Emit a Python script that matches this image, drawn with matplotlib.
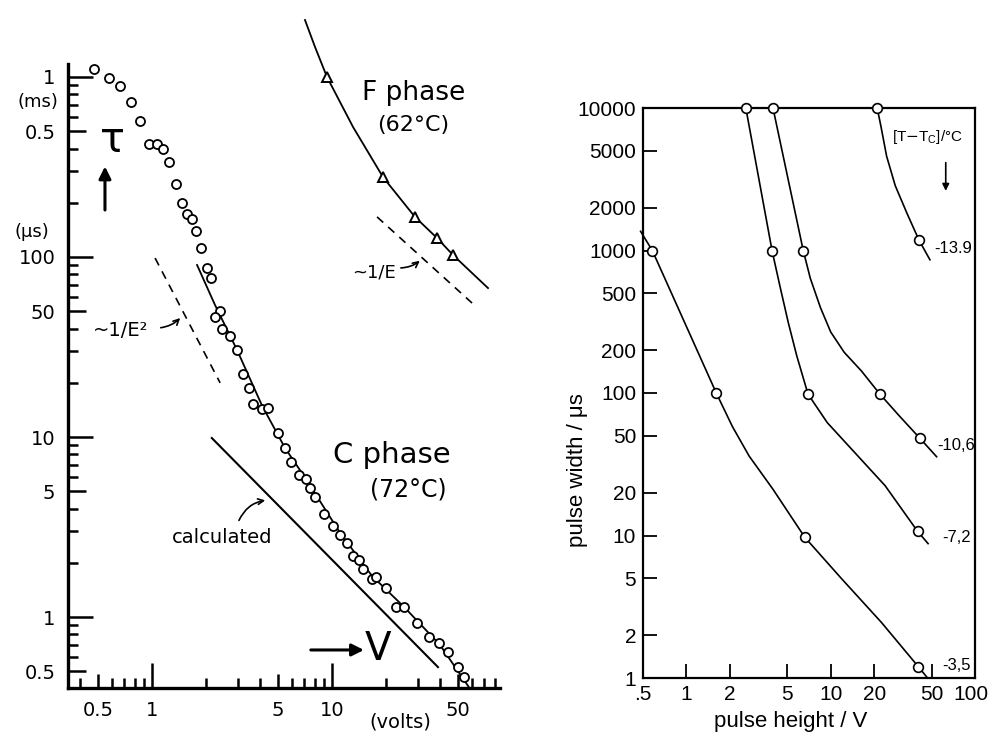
import matplotlib
matplotlib.use('Agg')
import matplotlib.pyplot as plt
import matplotlib.transforms as mtransforms
from matplotlib.ticker import NullFormatter

plt.rcParams['font.family'] = ['DejaVu Sans']

# ---- left panel: relaxation time tau (us) vs applied voltage (V)
# C phase (72 C), measured points
c_v = [0.476, 0.577, 0.664, 0.764, 0.858, 0.962, 1.066, 1.151, 1.243, 1.359,
       1.468, 1.565, 1.668, 1.756, 1.872, 2.021, 2.127, 2.387, 2.239, 2.448,
       2.713, 2.967, 3.204, 3.459, 3.640, 4.084, 4.41, 5.01, 5.48, 5.92,
       6.56, 7.17, 7.55, 8.05, 9.03, 10.13, 11.08, 12.11, 13.09, 14.13,
       14.87, 16.68, 17.56, 19.95, 22.67, 25.1, 29.7, 34.6, 39.3, 44.1,
       50.1, 54.1]
c_tau = [1108, 987, 891, 726, 570, 424, 424, 398, 337, 254,
         200, 173, 163, 139, 112, 86.9, 76.5, 50.1, 46.4, 39.8,
         36.4, 30.4, 22.4, 18.7, 15.3, 14.3, 14.5, 10.5, 8.69, 7.26,
         6.15, 5.84, 5.21, 4.64, 3.73, 3.20, 2.85, 2.58, 2.18, 2.07,
         1.85, 1.63, 1.67, 1.45, 1.14, 1.14, 0.926, 0.774, 0.717, 0.639,
         0.527, 0.464]
# C phase drawn curve
c_fit_v = [1.78, 2.24, 2.97, 4.08, 5.48, 7.17, 11.1, 16.7, 25.1, 39.8, 58.4]
c_fit_tau = [90.3, 54.1, 30.4, 15.0, 8.7, 5.84, 2.93, 1.69, 1.14, 0.70, 0.40]
# calculated line
calc_v = [2.15, 38.8]
calc_tau = [9.87, 0.527]
# ~1/E^2 guide
e2_v = [1.04, 2.39]
e2_tau = [98.7, 20.0]
# F phase (62 C)
f_line_v = [7.08, 8.05, 9.38, 13.1, 19.2, 28.9, 38.3, 47.0, 73.6]
f_line_tau = [2073, 1468, 1000, 527, 278, 167, 127.6, 102.6, 67.2]
f_tri_v = [9.38, 19.2, 28.9, 38.3, 47.0]
f_tri_tau = [1000, 278, 167, 127.6, 102.6]
# ~1/E guide
e1_v = [17.8, 60]
e1_tau = [167, 55.5]

# ---- right panel: pulse width (us) vs pulse height (V), one curve per T-Tc
r35_h = [0.481, 0.58, 1.61, 2.08, 2.72, 3.98, 6.62, 11.8, 22.5, 40.5, 46.9]
r35_w = [1364, 1000, 100, 58.3, 36.1, 21.1, 9.70, 5.02, 2.45, 1.20, 1.0]
r35_ph = [0.58, 1.61, 6.62, 40.5]
r35_pw = [1000, 100, 9.70, 1.20]

r72_h = [2.58, 3.92, 4.44, 5.08, 5.82, 6.96, 9.47, 14.6, 23.8, 40.0, 47.3]
r72_w = [10000, 1000, 566, 312, 182, 98.2, 61.9, 38.4, 22.4, 10.7, 8.77]
r72_ph = [2.58, 3.92, 6.96, 40.0]
r72_pw = [10000, 1000, 98.2, 10.7]

r106_h = [3.98, 6.45, 7.22, 8.50, 10.0, 12.4, 16.3, 21.8, 29.6, 41.6, 54.2]
r106_w = [10000, 1000, 638, 396, 268, 193, 143, 98.9, 69.8, 48.0, 35.7]
r106_ph = [3.98, 6.45, 21.8, 41.6]
r106_pw = [10000, 1000, 98.9, 48.0]

r139_h = [21.0, 22.3, 24.4, 28.0, 33.8, 40.9, 48.7]
r139_w = [10000, 7413, 4592, 2851, 1820, 1183, 861]
r139_ph = [21.0, 40.9]
r139_pw = [10000, 1183]

left_xt = [0.5, 1, 5, 10, 50]
left_xl = ['0.5', '1', '5', '10', '50']
left_yt = [0.5, 1, 5, 10, 50, 100, 500, 1000]
left_yl = ['0.5', '1', '5', '10', '50', '100', '0.5', '1']
right_xt = [0.5, 1, 2, 5, 10, 20, 50, 100]
right_xl = ['.5', '1', '2', '5', '10', '20', '50', '100']
right_yt = [1, 2, 5, 10, 20, 50, 100, 200, 500, 1000, 2000, 5000, 10000]
right_yl = ['1', '2', '5', '10', '20', '50', '100', '200', '500', '1000',
            '2000', '5000', '10000']

fig = plt.figure(figsize=(9.9, 7.38), dpi=100)
ax1 = fig.add_axes([68/990, 1-688/738, 432/990, 673/738])
ax2 = fig.add_axes([643/990, 1-678/738, 332/990, 570/738])

# left panel
ax1.set_xscale('log')
ax1.set_yscale('log')
ax1.set_xlim(0.3415, 85.8)
ax1.set_ylim(0.4033, 2210)
ax1.plot(c_fit_v, c_fit_tau, 'k-', lw=1.3)
ax1.plot(c_v, c_tau, 'o', ms=6.5, mfc='white', mec='k', mew=1.3)
ax1.plot(calc_v, calc_tau, 'k-', lw=1.5)
ax1.plot(e2_v, e2_tau, 'k--', lw=1.2, dashes=(5, 4))
ax1.plot(f_line_v, f_line_tau, 'k-', lw=1.3)
ax1.plot(f_tri_v, f_tri_tau, '^', ms=7.5, mfc='white', mec='k', mew=1.4)
ax1.plot(e1_v, e1_tau, 'k--', lw=1.2, dashes=(5, 4))

for s in ['top', 'right']:
    ax1.spines[s].set_visible(False)
for s in ['left', 'bottom']:
    ax1.spines[s].set_linewidth(2.4)
ax1.spines['left'].set_bounds(0.4033, 1180)

ax1.set_xticks(left_xt, left_xl)
ax1.set_xticks([0.4, 0.6, 0.7, 0.8, 0.9, 2, 3, 4, 6, 7, 8, 9, 20, 30, 40,
                60, 70, 80], minor=True)
ax1.set_yticks(left_yt, left_yl)
ax1.set_yticks([0.6, 0.7, 0.8, 0.9, 2, 3, 4, 6, 7, 8, 9, 20, 30, 40, 60, 70,
                80, 90, 200, 300, 400, 600, 700, 800, 900], minor=True)
ax1.xaxis.set_minor_formatter(NullFormatter())
ax1.yaxis.set_minor_formatter(NullFormatter())
ax1.tick_params(which='both', direction='in', width=1.8, top=False, right=False)
ax1.tick_params(which='minor', length=7)
ax1.tick_params(which='major', length=12, labelsize=14, pad=9)
for t, v in zip(ax1.xaxis.get_major_ticks(), left_xt):
    t.tick1line.set_markersize(18 if v in (1, 10) else 10)
for t, v in zip(ax1.yaxis.get_major_ticks(), left_yt):
    t.tick1line.set_markersize(18 if v in (1, 10, 100, 1000) else 13)

ax1.text(0.233, 726, '(ms)', fontsize=13, ha='center', va='center')
ax1.text(0.215, 138, '(μs)', fontsize=13, ha='center', va='center')
ax1.text(23.9, -0.036, '(volts)', fontsize=14, ha='center', va='top',
         transform=ax1.get_xaxis_transform())

ax1.text(0.60, 447, 'τ', fontsize=30, ha='center', va='center')
ax1.annotate('', xy=(0.548, 330), xytext=(0.548, 176),
             arrowprops=dict(arrowstyle='-|>', color='k', lw=2.2,
                             mutation_scale=18))
ax1.text(18.0, 0.66, 'V', fontsize=28, ha='center', va='center')
ax1.annotate('', xy=(15.6, 0.656), xytext=(7.36, 0.656),
             arrowprops=dict(arrowstyle='-|>', color='k', lw=2.2,
                             mutation_scale=18))

ax1.text(10.1, 7.94, 'C phase', fontsize=21, ha='left', va='center')
ax1.text(16.3, 5.08, '(72°C)', fontsize=17, ha='left', va='center')
ax1.text(14.7, 815, 'F phase', fontsize=19, ha='left', va='center')
ax1.text(17.8, 541, '(62°C)', fontsize=16, ha='left', va='center')

ax1.text(1.29, 2.78, 'calculated', fontsize=14, ha='left', va='center')
ax1.annotate('', xy=(4.41, 4.47), xytext=(3.0, 3.33),
             arrowprops=dict(arrowstyle='->', color='k', lw=1.2,
                             connectionstyle='arc3,rad=-0.3'))
ax1.text(0.47, 39.3, '~1/E²', fontsize=14, ha='left', va='center')
ax1.annotate('', xy=(1.47, 47), xytext=(1.08, 40.3),
             arrowprops=dict(arrowstyle='->', color='k', lw=1.2,
                             connectionstyle='arc3,rad=0.2'))
ax1.text(12.9, 81.5, '~1/E', fontsize=13, ha='left', va='center')
ax1.annotate('', xy=(31.6, 97.5), xytext=(23.3, 86.9),
             arrowprops=dict(arrowstyle='->', color='k', lw=1.2,
                             connectionstyle='arc3,rad=0.2'))

# right panel
ax2.set_xscale('log')
ax2.set_yscale('log')
ax2.set_xlim(0.5, 100)
ax2.set_ylim(1, 10000)
for h, w, ph, pw in [(r35_h, r35_w, r35_ph, r35_pw),
                     (r72_h, r72_w, r72_ph, r72_pw),
                     (r106_h, r106_w, r106_ph, r106_pw),
                     (r139_h, r139_w, r139_ph, r139_pw)]:
    ax2.plot(h, w, 'k-', lw=1.2, clip_on=False)
    ax2.plot(ph, pw, 'o', ms=7, mfc='white', mec='k', mew=1.2, clip_on=False,
             zorder=5)

for s in ax2.spines.values():
    s.set_linewidth(1.6)
ax2.set_xticks(right_xt, right_xl)
ax2.set_yticks(right_yt, right_yl)
ax2.set_xticks([], minor=True)
ax2.set_yticks([], minor=True)
ax2.tick_params(which='major', direction='in', length=10, width=1.3,
                labelsize=15, pad=5, top=False, right=False)
for lab in ax2.get_xticklabels() + ax2.get_yticklabels():
    lab.set_fontfamily('Liberation Sans')
last = ax2.get_xticklabels()[-1]
last.set_transform(last.get_transform() +
                   mtransforms.ScaledTranslation(-3/72, 0, fig.dpi_scale_trans))
ax2.set_xlabel('pulse height / V', fontsize=16, family='Liberation Sans')
ax2.xaxis.set_label_coords(0.446, -0.058)
ax2.set_ylabel('pulse width / μs', fontsize=16, family='Liberation Sans')
ax2.yaxis.set_label_coords(-0.165, 0.365)

ax2.text(46.9, 6270, '[T$-$T$_\\mathregular{C}$]/°C', fontsize=11,
         ha='center', va='center', family='Liberation Sans')
ax2.annotate('', xy=(62.7, 2505), xytext=(62.7, 4326),
             arrowprops=dict(arrowstyle='-|>', color='k', lw=1.2,
                             mutation_scale=10))
ax2.text(52.5, 1033, '-13.9', fontsize=12, ha='left', va='center',
         family='Liberation Sans')
ax2.text(55.1, 42.6, '-10,6', fontsize=12, ha='left', va='center',
         family='Liberation Sans')
ax2.text(59.7, 9.68, '-7,2', fontsize=12, ha='left', va='center',
         family='Liberation Sans')
ax2.text(59.7, 1.23, '-3,5', fontsize=12, ha='left', va='center',
         family='Liberation Sans')

plt.savefig('out.png', dpi=100, facecolor='white')
